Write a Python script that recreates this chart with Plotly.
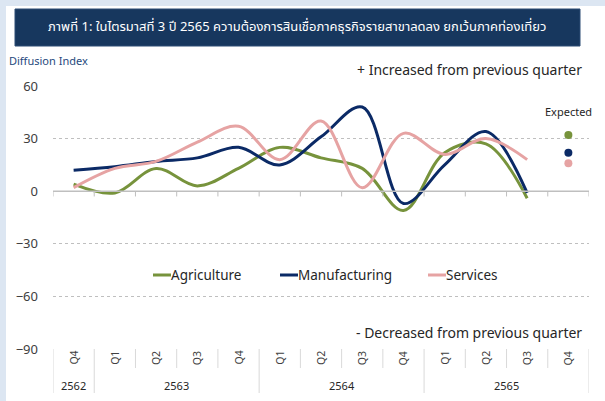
import plotly.graph_objects as go

# quarters from Q4/2562 to Q4/2565
quarters = ["Q4", "Q1", "Q2", "Q3", "Q4", "Q1", "Q2", "Q3", "Q4", "Q1", "Q2", "Q3", "Q4"]
years = ["2562", "2563", "2564", "2565"]
year_spans = [(0, 0), (1, 4), (5, 8), (9, 12)]

agriculture = [4, -1, 13, 3, 13, 25, 19, 13, -11, 22, 27, -4]
manufacturing = [12, 14, 17, 19, 25, 15, 31, 48, -7, 15, 34, -1]
services = [2, 13, 17, 28, 37, 18, 40, 2, 33, 21, 30, 18]

expected = {"Agriculture": 32, "Manufacturing": 22, "Services": 16}

COLORS = {"Agriculture": "#77933c", "Manufacturing": "#0b2a66", "Services": "#e6a3a3"}
FONT = "Noto Sans, Tahoma, sans-serif"
THAI_FONT = "Noto Sans Thai, Tahoma, Noto Sans, sans-serif"

# plot area in page pixels
L, R, T, B = 53, 589, 86, 349


def px(x):
    return (x - L) / (R - L)


def py(y):
    return (B - y) / (B - T)


def note(text, x, y, xref="paper", xanchor="center", size=13, color="#262626", family=FONT, **kw):
    return dict(text=text, xref=xref, yref="paper", x=x, y=y, xanchor=xanchor, yanchor="middle",
                showarrow=False, font=dict(family=family, size=size, color=color), **kw)


fig = go.Figure()
series = {"Agriculture": agriculture, "Manufacturing": manufacturing, "Services": services}
n = len(agriculture)
for name, vals in series.items():
    fig.add_trace(go.Scatter(
        x=list(range(n)), y=vals, mode="lines", name=name,
        line=dict(color=COLORS[name], width=3, shape="spline", smoothing=1.0),
        showlegend=False, hoverinfo="skip"
    ))
    fig.add_trace(go.Scatter(
        x=[len(quarters) - 1], y=[expected[name]], mode="markers",
        marker=dict(color=COLORS[name], size=8), showlegend=False, hoverinfo="skip"
    ))

shapes = []
# page background + title box
shapes.append(dict(type="rect", xref="paper", yref="paper", x0=px(6), x1=px(610), y0=py(405), y1=py(6),
                   fillcolor="white", line=dict(width=0), layer="below"))
shapes.append(dict(type="rect", xref="paper", yref="paper", x0=px(15), x1=px(580), y0=py(46), y1=py(9),
                   fillcolor="#17375e", line=dict(color="#2c4d75", width=1), layer="below"))

# axis line at zero with ticks on category boundaries
shapes.append(dict(type="line", xref="paper", yref="y", x0=0, x1=1, y0=0, y1=0,
                   line=dict(color="#bfbfbf", width=1.5)))
for k in range(len(quarters) + 1):
    b = k - 0.5
    shapes.append(dict(type="line", xref="x", yref="y", x0=b, x1=b, y0=0, y1=-3,
                       line=dict(color="#bfbfbf", width=1)))
    long = any(b == s - 0.5 or b == e + 0.5 for s, e in year_spans)
    shapes.append(dict(type="line", xref="x", yref="paper", x0=b, x1=b, y0=0,
                       y1=py(393) if long else py(368), line=dict(color="#d9d9d9", width=1)))

annotations = [
    note("ภาพที่ 1: ในไตรมาสที่ 3 ปี 2565 ความต้องการสินเชื่อภาคธุรกิจรายสาขาลดลง ยกเว้นภาคท่องเที่ยว",
         px(297), py(27), size=13, color="white", family=THAI_FONT),
    note("Diffusion Index", px(7), py(60), xanchor="left", size=11, color="#1f497d"),
    note("+ Increased from previous quarter", px(584), py(69), xanchor="right", size=14),
    note("- Decreased from previous quarter", px(584), py(332), xanchor="right", size=14),
    note("Expected", len(quarters) - 1, py(112), xref="x", size=11),
]
for i, q in enumerate(quarters):
    annotations.append(note(q, i, py(358), xref="x", size=10.5, color="#404040", textangle=-90))
for yr, (s, e) in zip(years, year_spans):
    annotations.append(note(yr, (s + e) / 2, py(385), xref="x", size=11))

# legend drawn by hand (short line sample + label)
legend_x = {"Agriculture": 153, "Manufacturing": 280, "Services": 428}
for name, lx in legend_x.items():
    shapes.append(dict(type="line", xref="paper", yref="paper", x0=px(lx), x1=px(lx + 18),
                       y0=py(275), y1=py(275), line=dict(color=COLORS[name], width=3)))
    annotations.append(note(name, px(lx + 16), py(275), xanchor="left", size=13.5))

fig.update_layout(
    width=605, height=401,
    margin=dict(l=L, r=605 - R, t=T, b=401 - B),
    paper_bgcolor="#dce6f2", plot_bgcolor="white",
    xaxis=dict(range=[-0.5, len(quarters) - 0.5], showticklabels=False, showgrid=False,
               zeroline=False, showline=False, fixedrange=True),
    yaxis=dict(range=[-90, 60], dtick=30, showgrid=True, gridcolor="#bfbfbf", griddash="dot",
               gridwidth=1, zeroline=False, showline=False, ticks="", ticklabelstandoff=14,
               tickfont=dict(family=FONT, size=13, color="#404040"), fixedrange=True),
    shapes=shapes, annotations=annotations, showlegend=False,
)

# drop the browser's default body margin so the figure sits at the page origin
fig.write_html("out.html", config={"displayModeBar": False},
               post_script="document.body.style.margin='0';")
